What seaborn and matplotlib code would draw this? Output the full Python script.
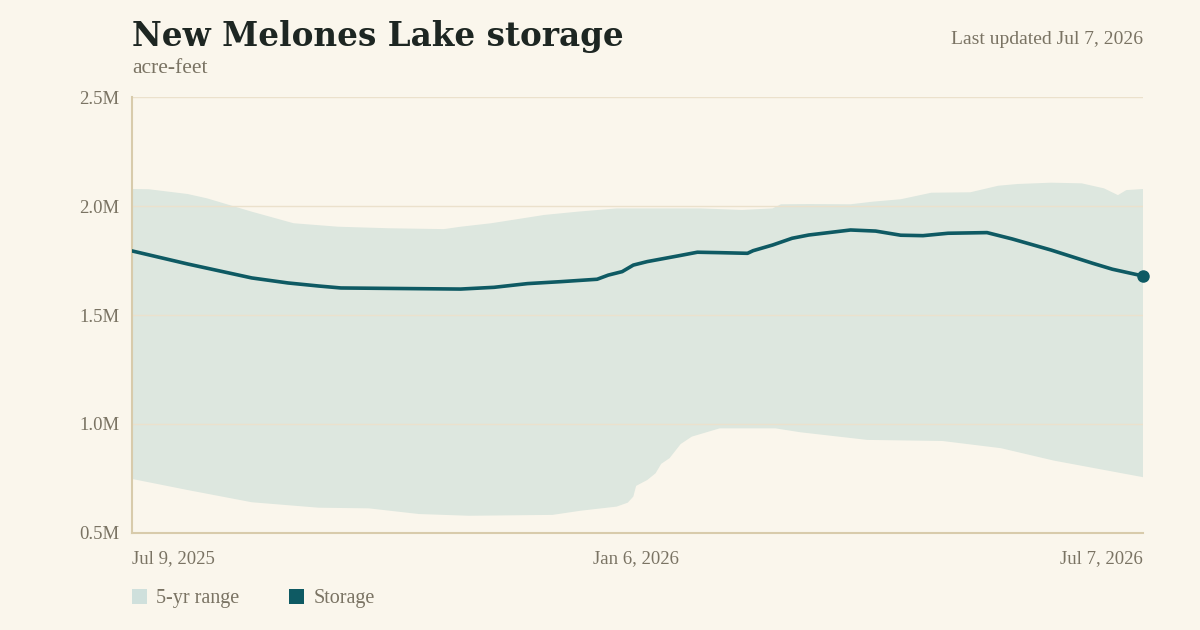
import numpy as np
import pandas as pd
import seaborn as sns
import matplotlib.pyplot as plt
import matplotlib.dates as mdates
from matplotlib.patches import Patch
from matplotlib.ticker import FuncFormatter

# 数据（单位：百万英亩英尺），按距 2025-07-09 的天数记录
start = pd.Timestamp("2025-07-09")

storage_days = [0, 20, 43, 56, 67, 75, 92, 118, 130, 142, 154, 167, 171, 176, 180, 185,
                196, 203, 211, 221, 223, 230, 237, 243, 258, 267, 276, 284, 293, 307,
                316, 330, 345, 352, 363]
storage_vals = [1.794, 1.734, 1.670, 1.647, 1.633, 1.624, 1.622, 1.619, 1.627, 1.644,
                1.653, 1.664, 1.683, 1.699, 1.729, 1.745, 1.771, 1.788, 1.786, 1.783,
                1.795, 1.821, 1.852, 1.867, 1.890, 1.885, 1.866, 1.864, 1.875, 1.878,
                1.849, 1.798, 1.737, 1.710, 1.679]

upper_days = [0, 6, 20, 27, 43, 58, 74, 92, 112, 118, 129, 148, 160, 174, 190, 204, 219,
              230, 233, 243, 258, 266, 276, 287, 301, 311, 318, 330, 341, 349, 354, 357, 363]
upper_vals = [2.078, 2.077, 2.055, 2.035, 1.974, 1.921, 1.905, 1.898, 1.894, 1.905, 1.921,
              1.959, 1.974, 1.989, 1.989, 1.989, 1.982, 1.989, 2.008, 2.009, 2.008, 2.020,
              2.031, 2.061, 2.063, 2.093, 2.101, 2.107, 2.104, 2.081, 2.050, 2.073, 2.078]

lower_days = [0, 20, 43, 67, 85, 103, 121, 151, 161, 174, 178, 180, 181, 185, 188, 190,
              193, 197, 201, 211, 231, 240, 264, 291, 312, 331, 363]
lower_vals = [0.748, 0.697, 0.641, 0.616, 0.613, 0.587, 0.579, 0.583, 0.602, 0.621, 0.639,
              0.667, 0.716, 0.743, 0.774, 0.817, 0.843, 0.908, 0.942, 0.980, 0.980, 0.962,
              0.927, 0.922, 0.889, 0.832, 0.756]

tick_dates = ["2025-07-09", "2026-01-06", "2026-07-07"]
tick_labels = ["Jul 9, 2025", "Jan 6, 2026", "Jul 7, 2026"]
y_ticks = [0.5, 1.0, 1.5, 2.0, 2.5]

# 颜色
bg = "#faf6ec"
band_color = "#dde7df"
line_color = "#0e5a63"
grid_color = "#ebe1cc"
spine_color = "#d8cbab"
muted = "#7a7363"

sns.set_theme(style="white")
plt.rcParams['font.family'] = ['Liberation Serif', 'DejaVu Serif']

df = pd.DataFrame({
    "date": start + pd.to_timedelta(storage_days, unit="D"),
    "storage": storage_vals,
})
up_dates = start + pd.to_timedelta(upper_days, unit="D")
lo_dates = start + pd.to_timedelta(lower_days, unit="D")

fig = plt.figure(figsize=(12, 6.3), dpi=100, facecolor=bg)
ax = fig.add_axes([0.11, 0.154, 0.8425, 0.692])
ax.set_facecolor(bg)

# 5年范围带（多边形）
poly_x = np.concatenate([mdates.date2num(up_dates), mdates.date2num(lo_dates)[::-1]])
poly_y = np.concatenate([upper_vals, lower_vals[::-1]])
ax.fill(poly_x, poly_y, color=band_color, linewidth=0, zorder=1)

# 网格线
for v in y_ticks[1:]:
    ax.axhline(v, color=grid_color, linewidth=1, zorder=2)

# 库存曲线
sns.lineplot(data=df, x="date", y="storage", color=line_color, linewidth=2.6, ax=ax, zorder=3)
ax.plot(df["date"].iloc[-1], df["storage"].iloc[-1], "o", color=line_color,
        markersize=8, zorder=4, clip_on=False)

ax.set_xlim(start, start + pd.Timedelta(days=363))
ax.set_ylim(0.5, 2.5)
ax.set_xlabel("")
ax.set_ylabel("")

ax.set_yticks(y_ticks)
ax.yaxis.set_major_formatter(FuncFormatter(lambda v, p: f"{v:.1f}M"))
ax.set_xticks(pd.to_datetime(tick_dates))
ax.set_xticklabels(tick_labels)
for lab, ha in zip(ax.get_xticklabels(), ["left", "center", "right"]):
    lab.set_horizontalalignment(ha)
ax.tick_params(axis="both", length=0, labelsize=13.5, labelcolor=muted)
ax.tick_params(axis="x", pad=12)
ax.tick_params(axis="y", pad=9)

for s in ["top", "right"]:
    ax.spines[s].set_visible(False)
for s in ["left", "bottom"]:
    ax.spines[s].set_color(spine_color)
    ax.spines[s].set_linewidth(1.5)
ax.grid(False)

# 标题和注释
fig.text(0.11, 0.927, "New Melones Lake storage", fontsize=23.5, fontweight="bold",
         color="#1d2622", ha="left", va="baseline", family=["DejaVu Serif"])
fig.text(0.11, 0.884, "acre-feet", fontsize=15.5, color=muted, ha="left", va="baseline")
fig.text(0.9525, 0.93, "Last updated Jul 7, 2026", fontsize=14, color=muted,
         ha="right", va="baseline")

# 图例
handles = [Patch(facecolor="#cfe0dc", edgecolor="none", label="5-yr range"),
           Patch(facecolor=line_color, edgecolor="none", label="Storage")]
leg = fig.legend(handles=handles, loc="center left", bbox_to_anchor=(0.0945, 0.05),
                 ncol=2, frameon=False, fontsize=14.5, handlelength=0.75, handleheight=0.75,
                 handletextpad=0.45, columnspacing=2.5)
for t in leg.get_texts():
    t.set_color(muted)

fig.savefig("out.png", dpi=100, facecolor=bg)
